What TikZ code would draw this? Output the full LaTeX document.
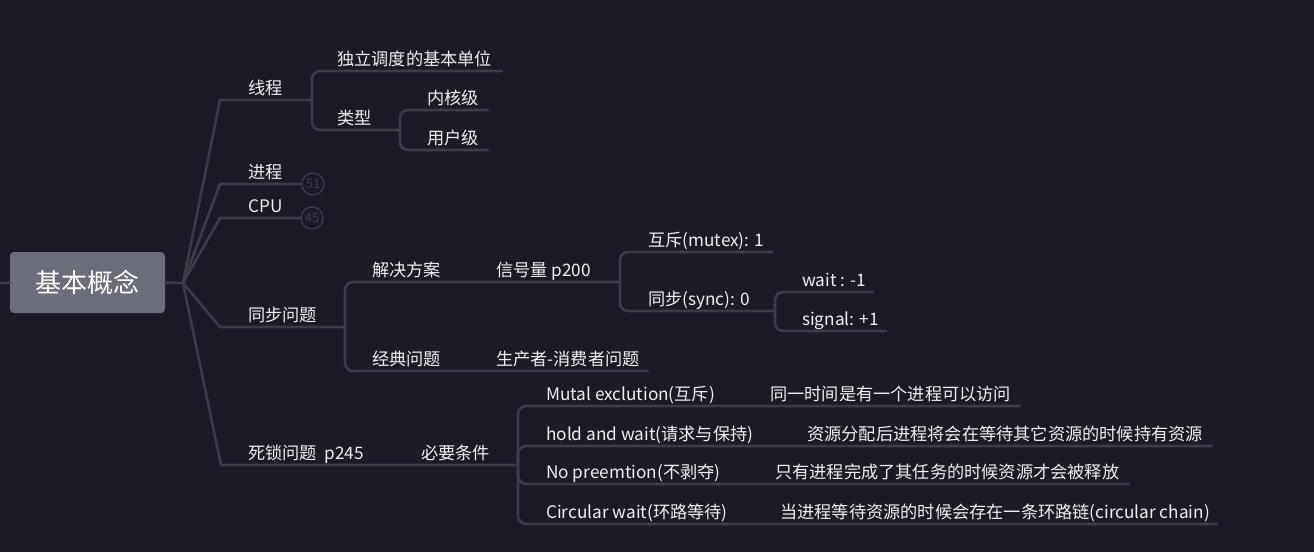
\documentclass[tikz,border=0pt]{standalone}
\usepackage{fontspec}
\setmainfont{Noto Sans CJK SC}
\definecolor{bg}{HTML}{1A1B25}
\definecolor{branch}{HTML}{3A3C49}
\definecolor{rootfill}{HTML}{6B6E79}
\definecolor{label}{HTML}{F0F0F2}
\tikzset{
  link/.style={draw=branch, line width=2.6pt, line cap=round},
  bracket/.style={link, rounded corners=8pt},
  topic/.style={anchor=base west, inner sep=0pt, text=label, font=\fontsize{17.2}{19}\selectfont},
  rootbox/.style={draw=none, fill=rootfill, rounded corners=4pt, minimum width=155pt, minimum height=61pt, text=white, font=\fontsize{26}{28}\selectfont},
  badge/.style={circle, draw=branch, line width=1.3pt, minimum size=22pt, inner sep=0pt, text=branch, font=\fontsize{13}{14}\selectfont}
}
\begin{document}
\begin{tikzpicture}[x=1pt,y=-1pt]
\fill[bg] (0,0) rectangle (1314,552);
\useasboundingbox (0,0) rectangle (1314,552);

\node[rootbox] (root) at (87.5,282.5) {基本概念};
\coordinate (hub) at (183,283);
\coordinate (left) at (0,283);
\draw[link] (left) -- (root.west);

% 线程
\coordinate (xc-a) at (220,100);
\coordinate (xc-b) at (312,100);
\coordinate (dl-b) at (502,71);
\coordinate (lx-b) at (400,130);
\coordinate (nh-b) at (488,110);
\coordinate (yh-b) at (488,150);
\node[topic] (xiancheng) at (248,94) {线程};
\node[topic] (duli) at (337,65) {独立调度的基本单位};
\node[topic] (leixing) at (337,124) {类型};
\node[topic] (neihe) at (427,104) {内核级};
\node[topic] (yonghu) at (427,144) {用户级};
\draw[link] (root.east) -- (hub) -- (xc-a) -- (xc-b);
\draw[bracket] (xc-b) |- (dl-b);
\draw[bracket] (xc-b) |- (lx-b);
\draw[bracket] (lx-b) |- (nh-b);
\draw[bracket] (lx-b) |- (yh-b);

% 进程, CPU
\coordinate (jc-a) at (220,184);
\coordinate (cpu-a) at (220,218);
\node[badge] (n51) at (313,184) {51};
\node[badge] (n45) at (312,218) {45};
\node[topic] (jincheng) at (248,178) {进程};
\node[topic] (cpu) at (248,212) {CPU};
\draw[link] (hub) -- (jc-a) -- (n51.west);
\draw[link] (hub) -- (cpu-a) -- (n45.west);

% 同步问题
\coordinate (tb-a) at (220,327);
\coordinate (tb-b) at (345,327);
\coordinate (xh-b) at (620,282);
\coordinate (hc-b) at (772,252);
\coordinate (sy-b) at (775,311);
\coordinate (wt-b) at (873,292);
\coordinate (sg-b) at (886,331);
\coordinate (jd-b) at (648,371);
\node[topic] (tongbu) at (248,321) {同步问题};
\node[topic] (jiejue) at (372,276) {解决方案};
\node[topic] (xinhao) at (496,276) {信号量 p200};
\node[topic] (huchi) at (648,246) {互斥(mutex): 1};
\node[topic] (sync) at (648,305) {同步(sync): 0};
\node[topic] (waitv) at (802,286) {wait : -1};
\node[topic] (signalv) at (802,325) {signal: +1};
\node[topic] (jingdian) at (372,365) {经典问题};
\node[topic] (shengchan) at (496,365) {生产者-消费者问题};
\draw[link] (hub) -- (tb-a) -- (tb-b);
\draw[bracket] (tb-b) |- (xh-b);
\draw[bracket] (tb-b) |- (jd-b);
\draw[bracket] (xh-b) |- (hc-b);
\draw[bracket] (xh-b) |- (sy-b);
\draw[bracket] (sy-b) |- (wt-b);
\draw[bracket] (sy-b) |- (sg-b);

% 死锁问题
\coordinate (sl-a) at (221,465);
\coordinate (sl-b) at (518,465);
\coordinate (mu-b) at (1020,406);
\coordinate (ho-b) at (1212,446);
\coordinate (np-b) at (1129,484);
\coordinate (ci-b) at (1217,524);
\node[topic] (sisuo) at (248,459) {死锁问题\ \ p245};
\node[topic] (biyao) at (421,459) {必要条件};
\node[topic] (mutal) at (546,400) {Mutal exclution(互斥)};
\node[topic] (hold) at (546,440) {hold and wait(请求与保持)};
\node[topic] (nopre) at (546,478) {No preemtion(不剥夺)};
\node[topic] (circ) at (546,518) {Circular wait(环路等待)};
\node[topic] (tongyi) at (770,400) {同一时间是有一个进程可以访问};
\node[topic] (ziyuan) at (807,440) {资源分配后进程将会在等待其它资源的时候持有资源};
\node[topic] (zhiyou) at (775,478) {只有进程完成了其任务的时候资源才会被释放};
\node[topic] (dangjc) at (780,518) {当进程等待资源的时候会存在一条环路链(circular chain)};
\draw[link] (hub) -- (sl-a) -- (sl-b);
\draw[bracket] (sl-b) |- (mu-b);
\draw[bracket] (sl-b) |- (ho-b);
\draw[bracket] (sl-b) |- (np-b);
\draw[bracket] (sl-b) |- (ci-b);
\end{tikzpicture}
\end{document}
